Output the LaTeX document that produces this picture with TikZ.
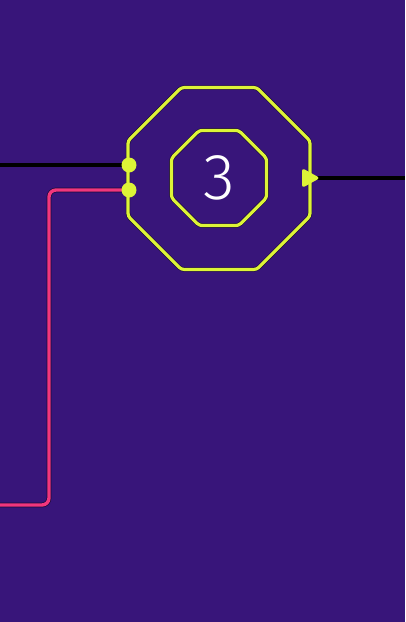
\documentclass[tikz,border=0pt]{standalone}
\usepackage{fontspec}
\setmainfont{Fira Sans Light}
\usetikzlibrary{shapes.geometric}
\definecolor{bg}{HTML}{38157A}
\definecolor{lime}{HTML}{DDF437}
\definecolor{hotpink}{HTML}{F2367D}
\definecolor{shade}{HTML}{1A0A3A}
\begin{document}
\begin{tikzpicture}[x=1pt,y=-1pt,
  oct/.style={regular polygon,regular polygon sides=8,draw=lime,line width=3.2pt,inner sep=0pt,rounded corners=3pt,
    preaction={draw=shade,line width=4.4pt}},
  dot/.style={circle,fill=lime,inner sep=0pt,minimum size=15pt},
  wire/.style={line width=3.4pt,preaction={draw=shade,line width=4.8pt}}]
\fill[bg] (0,0) rectangle (405,622);
\useasboundingbox (0,0) rectangle (405,622);
\node[oct,minimum size=197pt] (outer) at (219,178.5) {};
\node[oct,minimum size=103pt] (inner) at (219,178) {};
\node[text=white,font=\fontsize{65}{70}\selectfont,inner sep=0pt] (num) at (219,178) {3};
\coordinate (inL) at (0,165);
\coordinate (outR) at (405,178);
\coordinate (pinkEnd) at (0,505);
\coordinate (pinkC1) at (49,190);
\coordinate (pinkC2) at (49,505);
\coordinate (tri) at (310,178);
\draw[wire,black] (inL) -- (129,165);
\draw[wire,hotpink,rounded corners=7pt] (129,190) -- (pinkC1) -- (pinkC2) -- (pinkEnd);
\draw[wire,black] (tri) -- (outR);
\fill[lime,rounded corners=3pt] (302,168) -- (320,178) -- (302,188) -- cycle;
\node[dot] (d1) at (129,165) {};
\node[dot] (d2) at (129,190) {};
\end{tikzpicture}
\end{document}
